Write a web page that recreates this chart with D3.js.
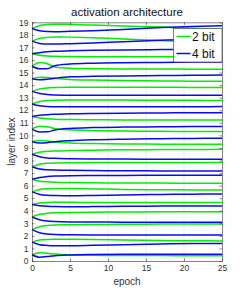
<!DOCTYPE html>
<html>
<head>
<meta charset="utf-8">
<script src="https://cdn.jsdelivr.net/npm/d3@7"></script>
<style>
body{margin:0;background:#fff}
text{font-family:"Liberation Sans",Arial,sans-serif}
</style>
</head>
<body>
<div id="chart"></div>
<script>
const epochs=[0,1,2,3,5,8,12,17,21,25]

// one row per layer, values at the epochs above
const bit2=[
[0.5,0.66,0.62,0.55,0.48,0.45,0.44,0.43,0.42,0.42],
[1.5,1.68,1.72,1.73,1.73,1.72,1.68,1.63,1.61,1.6],
[2.5,2.72,2.82,2.86,2.88,2.9,2.92,2.94,2.95,2.95],
[3.5,3.72,3.8,3.84,3.87,3.89,3.9,3.92,3.93,3.93],
[4.5,4.62,4.66,4.67,4.67,4.66,4.65,4.65,4.65,4.65],
[5.5,5.7,5.76,5.78,5.77,5.74,5.7,5.67,5.66,5.65],
[6.5,6.35,6.3,6.27,6.24,6.22,6.21,6.2,6.19,6.19],
[7.5,7.7,7.78,7.81,7.83,7.84,7.84,7.85,7.85,7.85],
[8.5,8.66,8.73,8.76,8.79,8.82,8.85,8.87,8.88,8.89],
[9.5,9.6,9.55,9.47,9.4,9.35,9.32,9.3,9.29,9.29],
[10.5,10.72,10.68,10.53,10.44,10.38,10.34,10.32,10.31,10.3],
[11.5,11.38,11.32,11.29,11.26,11.24,11.23,11.23,11.23,11.23],
[12.5,12.7,12.77,12.8,12.82,12.82,12.81,12.8,12.79,12.78],
[13.5,13.7,13.78,13.81,13.83,13.84,13.84,13.83,13.82,13.81],
[14.5,14.62,14.6,14.55,14.45,14.4,14.36,14.33,14.31,14.3],
[15.5,15.8,15.7,15.45,15.35,15.31,15.29,15.28,15.27,15.27],
[16.5,16.38,16.32,16.29,16.27,16.26,16.25,16.25,16.25,16.25],
[17.5,17.72,17.8,17.83,17.82,17.78,17.68,17.55,17.45,17.4],
[18.5,18.75,18.83,18.85,18.83,18.78,18.7,18.62,18.52,18.45]
]

const bit4=[
[0.5,0.3,0.36,0.42,0.48,0.52,0.54,0.53,0.53,0.53],
[1.5,1.3,1.24,1.22,1.22,1.25,1.3,1.36,1.39,1.4],
[2.5,2.25,2.14,2.1,2.08,2.07,2.07,2.07,2.07,2.07],
[3.5,3.28,3.18,3.14,3.11,3.1,3.09,3.08,3.08,3.08],
[4.5,4.4,4.35,4.33,4.32,4.33,4.35,4.37,4.38,4.38],
[5.5,5.3,5.23,5.21,5.2,5.22,5.26,5.3,5.32,5.33],
[6.5,6.65,6.72,6.76,6.79,6.8,6.81,6.82,6.82,6.82],
[7.5,7.32,7.26,7.24,7.22,7.2,7.18,7.17,7.16,7.16],
[8.5,8.3,8.2,8.17,8.14,8.12,8.11,8.1,8.1,8.1],
[9.5,9.4,9.42,9.5,9.58,9.65,9.7,9.74,9.76,9.77],
[10.5,10.27,10.28,10.42,10.55,10.62,10.66,10.68,10.7,10.7],
[11.5,11.6,11.65,11.68,11.72,11.75,11.77,11.79,11.8,11.81],
[12.5,12.35,12.3,12.28,12.27,12.27,12.27,12.28,12.28,12.29],
[13.5,13.33,13.25,13.22,13.2,13.19,13.19,13.19,13.2,13.2],
[14.5,14.42,14.46,14.54,14.66,14.7,14.73,14.76,14.78,14.8],
[15.5,15.3,15.3,15.55,15.68,15.75,15.79,15.81,15.83,15.84],
[16.5,16.58,16.65,16.69,16.73,16.77,16.8,16.83,16.84,16.85],
[17.5,17.32,17.27,17.27,17.3,17.36,17.46,17.57,17.64,17.68],
[18.5,18.32,18.26,18.25,18.28,18.33,18.42,18.58,18.67,18.72]
]

const xTicks=[0,5,10,15,20,25]
const yTicks=d3.range(0,20)
const seriesNames=["2 bit","4 bit"]
const seriesColors=["#00ee00","#0a0aee"]

const W=245,H=294
const mLeft=32,mRight=222,mTop=22.3,mBottom=261

const svg=d3.select("#chart").append("svg")
.attr("width",W).attr("height",H)

const x=d3.scaleLinear().domain([0,25]).range([mLeft,mRight])
const y=d3.scaleLinear().domain([0,19]).range([mBottom,mTop])

// vertical grid
svg.append("g")
.selectAll("line")
.data(xTicks.slice(1,-1))
.enter().append("line")
.attr("x1",d=>x(d)).attr("x2",d=>x(d))
.attr("y1",mTop).attr("y2",mBottom)
.attr("stroke","#ebebeb").attr("stroke-width",1)

const line=d3.line()
.x((d,i)=>x(epochs[i]))
.y(d=>y(d))
.curve(d3.curveMonotoneX)

const lines=svg.append("g")
bit2.forEach(row=>{
lines.append("path").attr("d",line(row)).attr("fill","none")
.attr("stroke",seriesColors[0]).attr("stroke-width",1.5)
})
bit4.forEach(row=>{
lines.append("path").attr("d",line(row)).attr("fill","none")
.attr("stroke",seriesColors[1]).attr("stroke-width",1.5)
})

// axes, ticks inward
const axisColor="#333"
const xAxis=svg.append("g").attr("transform","translate(0,"+mBottom+")")
.call(d3.axisBottom(x).tickValues(xTicks).tickSizeInner(-2.5).tickSizeOuter(0).tickPadding(5))
const yAxis=svg.append("g").attr("transform","translate("+mLeft+",0)")
.call(d3.axisLeft(y).tickValues(yTicks).tickSizeInner(-2.5).tickSizeOuter(0).tickPadding(3.5))
svg.append("g").attr("transform","translate(0,"+mTop+")")
.call(d3.axisTop(x).tickValues(xTicks).tickSizeInner(-2.5).tickSizeOuter(0).tickFormat(""))
svg.append("g").attr("transform","translate("+mRight+",0)")
.call(d3.axisRight(y).tickValues(yTicks).tickSizeInner(-2.5).tickSizeOuter(0).tickFormat(""))

svg.selectAll(".domain").attr("stroke",axisColor).attr("stroke-width",0.6)
svg.selectAll(".tick line").attr("stroke",axisColor).attr("stroke-width",0.6)
svg.selectAll(".tick text").attr("fill","#333").style("font-size","8.5px")
xAxis.selectAll(".tick text").attr("dy","0.6em")

// labels
svg.append("text").attr("x",(mLeft+mRight)/2).attr("y",16)
.attr("text-anchor","middle").style("font-size","11.5px").attr("fill","#111")
.text("activation architecture")
svg.append("text").attr("x",(mLeft+mRight)/2).attr("y",285)
.attr("text-anchor","middle").style("font-size","10px").attr("fill","#333")
.text("epoch")
svg.append("text").attr("transform","translate(15,"+((mTop+mBottom)/2)+") rotate(-90)")
.attr("text-anchor","middle").style("font-size","10px").attr("fill","#333")
.text("layer index")

// legend
const lg=svg.append("g").attr("transform","translate(173.5,28.5)")
lg.append("rect").attr("width",48.5).attr("height",33.5)
.attr("fill","#fff").attr("stroke",axisColor).attr("stroke-width",0.6)
seriesNames.forEach((n,i)=>{
const yy=8+i*17
lg.append("line").attr("x1",3).attr("x2",17).attr("y1",yy).attr("y2",yy)
.attr("stroke",seriesColors[i]).attr("stroke-width",1.5)
lg.append("text").attr("x",18.5).attr("y",yy+4.3)
.style("font-size","12px").attr("fill","#111").text(n)
})
</script>
</body>
</html>
